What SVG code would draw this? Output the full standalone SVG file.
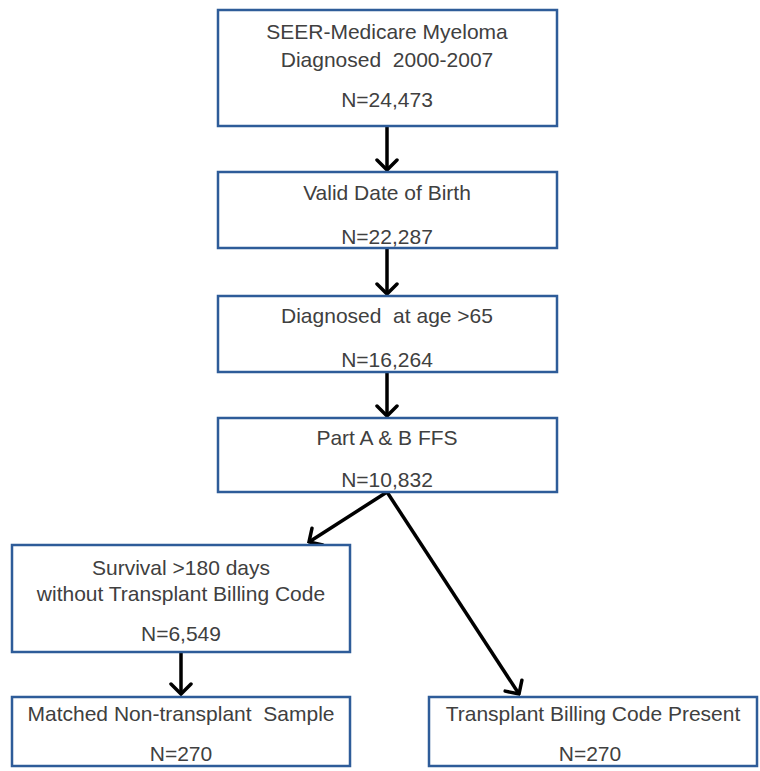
<svg xmlns="http://www.w3.org/2000/svg" width="760" height="771" viewBox="0 0 760 771">
<style>
.box{fill:#fff;stroke:#2e5c99;stroke-width:2.5}
.t{font-family:"Liberation Sans",Arial,sans-serif;font-size:21px;fill:#404040;text-anchor:middle}
.c{stroke:#000;stroke-width:3.5;fill:none}
</style>
<defs>
<marker id="ah" viewBox="-13 -13 15 26" refX="0" refY="0" markerWidth="15" markerHeight="26" orient="auto" markerUnits="userSpaceOnUse">
<path d="M-10,-10 L0,0 L-10,10" fill="none" stroke="#000" stroke-width="3.5" stroke-linecap="round"/>
</marker>
</defs>
<rect width="760" height="771" fill="#fff"/>
<g id="connectors">
<path class="c" d="M387,127 V170" marker-end="url(#ah)"/>
<path class="c" d="M387,248 V294" marker-end="url(#ah)"/>
<path class="c" d="M387,372 V416" marker-end="url(#ah)"/>
<path class="c" d="M387,492 L309,542" marker-end="url(#ah)"/>
<path class="c" d="M387,492 L519,694" marker-end="url(#ah)"/>
<path class="c" d="M181,652 V694" marker-end="url(#ah)"/>
</g>
<g id="n1">
<rect class="box" x="218" y="10" width="339" height="116"/>
<text class="t" x="387" y="39">SEER-Medicare Myeloma</text>
<text class="t" x="387" y="67" xml:space="preserve">Diagnosed  2000-2007</text>
<text class="t" x="387" y="107">N=24,473</text>
</g>
<g id="n2">
<rect class="box" x="218" y="172" width="339" height="76"/>
<text class="t" x="387" y="200">Valid Date of Birth</text>
<text class="t" x="387" y="244">N=22,287</text>
</g>
<g id="n3">
<rect class="box" x="218" y="296" width="339" height="76"/>
<text class="t" x="387" y="323" xml:space="preserve">Diagnosed  at age &gt;65</text>
<text class="t" x="387" y="367">N=16,264</text>
</g>
<g id="n4">
<rect class="box" x="218" y="418" width="339" height="74"/>
<text class="t" x="387" y="445">Part A &amp; B FFS</text>
<text class="t" x="387" y="487">N=10,832</text>
</g>
<g id="n5">
<rect class="box" x="12" y="545" width="338" height="107"/>
<text class="t" x="181" y="575">Survival &gt;180 days</text>
<text class="t" x="181" y="601">without Transplant Billing Code</text>
<text class="t" x="181" y="641">N=6,549</text>
</g>
<g id="n6">
<rect class="box" x="12" y="697" width="338" height="69"/>
<text class="t" x="181" y="721" xml:space="preserve">Matched Non-transplant  Sample</text>
<text class="t" x="181" y="761">N=270</text>
</g>
<g id="n7">
<rect class="box" x="429" y="697" width="328" height="69"/>
<text class="t" x="593" y="721">Transplant Billing Code Present</text>
<text class="t" x="590" y="761">N=270</text>
</g>
</svg>
